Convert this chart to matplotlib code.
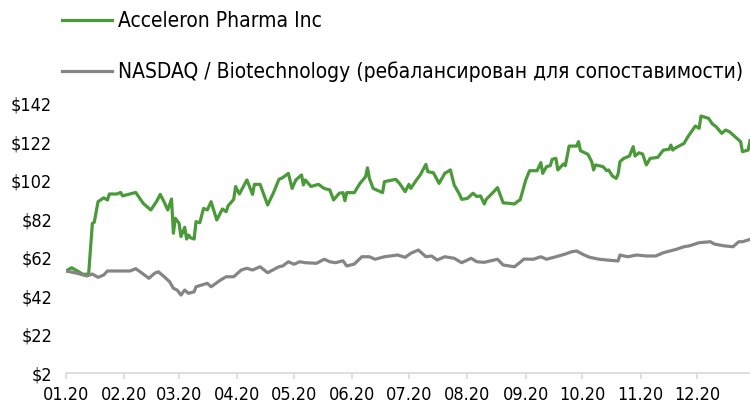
import pandas as pd
import matplotlib
matplotlib.use("Agg")
import matplotlib.pyplot as plt
import matplotlib.dates as mdates

plt.rcParams["font.family"] = ["DejaVu Sans"]
plt.rcParams["font.stretch"] = "condensed"

# -----------------------------
# Data (day offset from 2020-01-01, value in $)
# -----------------------------
green_days = [0, 3, 9, 12, 14, 15, 17, 20, 22, 23, 27, 29, 30, 37, 41, 45, 48, 50, 52, 54,
              56, 57, 58, 60, 61, 63, 64, 65, 66, 68, 69, 71, 73, 75, 77, 80, 83, 85, 86, 89,
              90, 92, 96, 99, 100, 103, 107, 110, 113, 115, 118, 120, 122, 125, 126, 127, 130,
              134, 137, 140, 142, 145, 147, 148, 149, 153, 156, 159, 160, 161, 163, 168, 169,
              175, 177, 180, 182, 183, 186, 188, 191, 192, 195, 198, 201, 204, 206, 209, 210,
              213, 216, 218, 220, 222, 223, 227, 229, 232, 236, 238, 240, 241, 244, 246, 250,
              252, 253, 255, 257, 258, 260, 261, 264, 265, 267, 271, 272, 273, 277, 279, 280,
              281, 285, 287, 288, 290, 292, 293, 294, 296, 299, 301, 302, 304, 306, 308, 310,
              314, 317, 320, 321, 322, 323, 328, 330, 334, 336, 337, 341, 343, 345, 348, 350,
              352, 356, 358, 359, 362, 363]
green_vals = [55.0, 56.7, 53.3, 53.3, 79.8, 80.3, 91.0, 93.0, 91.9, 95.0, 95.0, 95.8, 94.0,
              95.8, 90.1, 86.7, 91.0, 94.8, 91.0, 86.7, 92.4, 74.6, 82.4, 79.8, 72.9, 77.7,
              71.6, 73.7, 72.3, 71.6, 80.6, 80.1, 87.5, 86.7, 91.0, 81.5, 87.2, 85.8, 88.8,
              92.2, 98.9, 95.0, 102.3, 94.8, 100.0, 100.0, 89.3, 95.4, 102.6, 103.5, 105.7,
              97.9, 102.3, 104.9, 99.7, 102.3, 98.9, 100.0, 97.9, 97.1, 91.9, 95.4, 95.7,
              91.5, 95.7, 95.7, 100.5, 104.0, 108.6, 103.1, 97.9, 95.7, 101.4, 102.6, 100.5,
              96.2, 100.0, 97.9, 102.3, 104.9, 110.4, 106.6, 106.0, 100.5, 105.7, 107.5, 99.7,
              94.5, 92.2, 92.7, 95.4, 93.7, 94.0, 89.8, 92.2, 96.2, 98.3, 90.4, 90.1, 89.8,
              91.4, 91.9, 102.3, 107.1, 107.1, 111.3, 105.7, 109.2, 109.7, 113.0, 113.5, 107.5,
              110.6, 109.7, 119.9, 119.9, 122.2, 117.5, 115.6, 111.8, 107.5, 110.1, 109.2,
              107.1, 107.5, 104.3, 103.1, 105.4, 111.8, 113.5, 114.7, 119.6, 114.7, 116.4,
              115.8, 110.1, 113.5, 114.0, 117.8, 118.2, 120.4, 117.8, 118.7, 121.3, 124.7,
              130.3, 129.1, 135.5, 134.3, 131.4, 130.0, 126.5, 128.2, 127.4, 123.9, 122.2,
              117.0, 117.8, 122.7]

gray_days = [0, 6, 11, 14, 17, 20, 22, 34, 37, 40, 44, 47, 49, 52, 55, 57, 59, 61, 63, 65,
             68, 69, 72, 75, 77, 82, 85, 89, 93, 96, 99, 103, 107, 113, 115, 118, 121, 124,
             127, 133, 137, 140, 143, 147, 149, 153, 157, 161, 164, 169, 176, 180, 183, 187,
             191, 194, 197, 201, 206, 210, 215, 218, 222, 229, 232, 238, 241, 243, 248, 252,
             255, 260, 265, 268, 271, 275, 278, 283, 287, 293, 294, 298, 303, 308, 313, 317,
             321, 324, 328, 331, 336, 342, 344, 349, 354, 357, 359, 363]
gray_vals = [55.0, 53.8, 52.4, 53.4, 51.7, 52.9, 55.0, 55.0, 56.2, 54.1, 51.2, 53.8, 54.6,
             52.1, 49.4, 46.0, 45.1, 42.5, 45.1, 43.4, 44.2, 46.8, 47.7, 48.6, 46.8, 50.3,
             52.0, 52.0, 55.5, 56.4, 55.5, 57.2, 54.1, 57.2, 57.6, 59.8, 58.5, 59.8, 59.3,
             59.0, 61.1, 59.8, 59.3, 60.3, 57.6, 58.6, 62.4, 62.4, 61.1, 62.4, 63.3, 62.1,
             64.2, 65.9, 62.4, 62.8, 60.7, 62.4, 61.6, 59.3, 61.6, 59.8, 59.5, 61.1, 58.1,
             57.2, 59.5, 61.2, 61.1, 62.4, 61.1, 62.4, 63.8, 64.9, 65.4, 63.3, 62.1, 61.1,
             60.7, 60.2, 63.3, 62.4, 63.3, 62.8, 62.8, 64.5, 65.5, 66.3, 67.6, 68.1, 69.7,
             70.2, 69.0, 68.1, 67.6, 70.2, 70.2, 71.4]

labels = ["Acceleron Pharma Inc",
          "NASDAQ / Biotechnology (ребалансирован для сопоставимости)"]
yticks = [2, 22, 42, 62, 82, 102, 122, 142]

start = pd.Timestamp("2020-01-01")
green_dates = start + pd.to_timedelta(green_days, unit="D")
gray_dates = start + pd.to_timedelta(gray_days, unit="D")

# -----------------------------
# Plot
# -----------------------------
fig = plt.figure(figsize=(7.5, 4.05), dpi=100)
ax = fig.add_axes([0.088, 0.079, 0.912, 0.6654])

ax.plot(green_dates, green_vals, color="#4a9a3a", lw=2.3, label=labels[0])
ax.plot(gray_dates, gray_vals, color="#858585", lw=2.3, label=labels[1])

ax.set_xlim(start, start + pd.Timedelta(days=363))
ax.set_ylim(2, 142)
ax.set_yticks(yticks)
ax.set_yticklabels([f"${v}" for v in yticks])

ax.xaxis.set_major_locator(mdates.MonthLocator())
ax.xaxis.set_major_formatter(mdates.DateFormatter("%m.%y"))

for s in ["top", "right", "left"]:
    ax.spines[s].set_visible(False)
ax.spines["bottom"].set_color("#d9d9d9")
ax.spines["bottom"].set_linewidth(1.2)
ax.tick_params(axis="x", colors="#d9d9d9", length=4, width=1.2, pad=5,
               labelcolor="black", labelsize=13)
ax.tick_params(axis="y", length=0, pad=10, labelsize=13)

fig.legend(loc="upper left", bbox_to_anchor=(0.083, 0.973), frameon=False,
           borderpad=0, borderaxespad=0,
           fontsize=15, handlelength=2.4, handletextpad=0.3, labelspacing=1.45)

plt.savefig("out.png", dpi=100)
